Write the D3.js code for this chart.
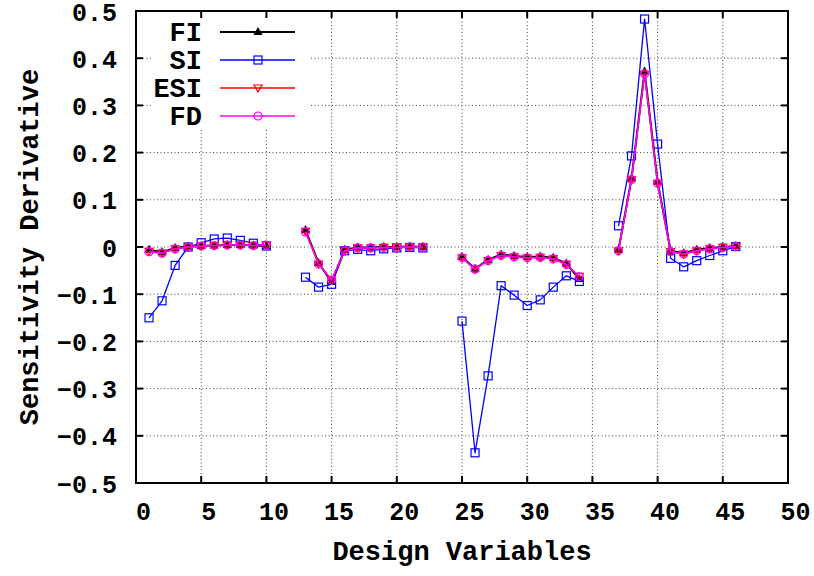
<!DOCTYPE html>
<html>
<head>
<meta charset="utf-8">
<script src="https://cdn.jsdelivr.net/npm/d3@7"></script>
<style>
  body { margin: 0; background: #fff; }
  text { font-family: "Liberation Mono", "DejaVu Sans Mono", monospace; font-weight: bold; }
</style>
</head>
<body>
<svg width="814" height="576"></svg>
<script>
// design variable index, gaps between the four groups are null
var designVars = [1,2,3,4,5,6,7,8,9,10,11,12,13,14,15,16,17,18,19,20,21,22,23,24,
  25,26,27,28,29,30,31,32,33,34,35,36,37,38,39,40,41,42,43,44,45,46];

var fiVals = [-0.006,-0.011,-0.002,0.001,0.002,0.003,0.004,0.004,0.003,0.002, null,null,
  0.036,-0.034,-0.074,-0.006,-0.001,-0.001,0.000,0.000,0.001,0.000, null,null,
  -0.021,-0.046,-0.027,-0.016,-0.019,-0.021,-0.020,-0.023,-0.035,-0.068, null,null,
  -0.006,0.145,0.372,0.138,-0.008,-0.013,-0.006,-0.002,0.000,0.002];

var siVals = [-0.150,-0.114,-0.039,0.000,0.009,0.017,0.019,0.014,0.008,0.002, null,null,
  -0.064,-0.085,-0.079,-0.008,-0.005,-0.008,-0.004,-0.002,-0.001,-0.002, null,null,
  -0.157,-0.436,-0.273,-0.082,-0.102,-0.124,-0.112,-0.085,-0.061,-0.073, null,null,
  0.045,0.193,0.483,0.218,-0.024,-0.042,-0.029,-0.018,-0.008,0.001];

var esiVals = [-0.009,-0.013,-0.004,0.000,0.002,0.003,0.004,0.004,0.003,0.004, null,null,
  0.033,-0.036,-0.070,-0.008,-0.002,-0.002,-0.001,-0.001,0.000,0.000, null,null,
  -0.023,-0.047,-0.029,-0.018,-0.021,-0.023,-0.022,-0.025,-0.037,-0.062, null,null,
  -0.008,0.143,0.366,0.135,-0.010,-0.015,-0.008,-0.004,-0.001,0.001];

var fdVals = [-0.010,-0.013,-0.004,0.000,0.002,0.003,0.004,0.004,0.003,0.004, null,null,
  0.032,-0.036,-0.070,-0.008,-0.002,-0.002,-0.001,-0.001,0.000,0.000, null,null,
  -0.023,-0.047,-0.029,-0.018,-0.021,-0.023,-0.022,-0.025,-0.037,-0.063, null,null,
  -0.008,0.143,0.367,0.135,-0.010,-0.015,-0.008,-0.004,-0.001,0.001];

var xTicks = [0,5,10,15,20,25,30,35,40,45,50];
var yTicks = [-0.5,-0.4,-0.3,-0.2,-0.1,0,0.1,0.2,0.3,0.4,0.5];

var series = [
  {name: "FI", vals: fiVals, color: "#000000", width: 2, marker: "tri"},
  {name: "SI", vals: siVals, color: "#0000ff", width: 1.3, marker: "square"},
  {name: "ESI", vals: esiVals, color: "#ff0000", width: 1.3, marker: "invtri"},
  {name: "FD", vals: fdVals, color: "#ff00ff", width: 1.5, marker: "circle"}
];

var svg = d3.select("svg"),
  margin = {top: 11, right: 26, bottom: 93, left: 136},
  width = +svg.attr("width") - margin.left - margin.right,
  height = +svg.attr("height") - margin.top - margin.bottom,
  g = svg.append("g").attr("transform", "translate(" + margin.left + "," + margin.top + ")");

var x = d3.scaleLinear().domain([0, 50]).range([0, width]);
var y = d3.scaleLinear().domain([-0.5, 0.5]).range([height, 0]);

function fmt(v) { return v === 0 ? "0" : d3.format(".1f")(v).replace("-", "\u2212"); }

// dotted grid
g.append("g").selectAll("line").data(xTicks.slice(1, -1)).join("line")
  .attr("x1", d => x(d)).attr("x2", d => x(d)).attr("y1", 0).attr("y2", height)
  .attr("stroke", "#444").attr("stroke-width", 1).attr("stroke-dasharray", "1,2.5");
g.append("g").selectAll("line").data(yTicks.slice(1, -1)).join("line")
  .attr("y1", d => y(d)).attr("y2", d => y(d)).attr("x1", 0).attr("x2", width)
  .attr("stroke", "#444").attr("stroke-width", 1).attr("stroke-dasharray", "1,2.5");

// legend background hides the grid behind it
g.append("rect").attr("x", 17).attr("y", 0).attr("width", 157).attr("height", 119).attr("fill", "#fff");

// axes: labels only, the inward ticks are drawn below
var xAxis = g.append("g").attr("transform", "translate(0," + height + ")")
  .call(d3.axisBottom(x).tickValues(xTicks).tickSize(0).tickPadding(19));
var yAxis = g.append("g")
  .call(d3.axisLeft(y).tickValues(yTicks).tickFormat(fmt).tickSize(0).tickPadding(19));
[xAxis, yAxis].forEach(a => {
  a.select(".domain").remove();
  a.selectAll("text").attr("font-size", 25).attr("fill", "#000")
    .style("font-family", "'Liberation Mono', monospace").style("font-weight", "bold");
});
xAxis.selectAll("text").attr("dx", 7);
yAxis.selectAll("text").attr("dy", "0.36em");

// inward ticks on all four sides
var tk = 7;
var ticks = g.append("g").attr("stroke", "#000").attr("stroke-width", 2);
xTicks.slice(1, -1).forEach(d => {
  ticks.append("line").attr("x1", x(d)).attr("x2", x(d)).attr("y1", height).attr("y2", height - tk);
  ticks.append("line").attr("x1", x(d)).attr("x2", x(d)).attr("y1", 0).attr("y2", tk);
});
yTicks.slice(1, -1).forEach(d => {
  ticks.append("line").attr("y1", y(d)).attr("y2", y(d)).attr("x1", 0).attr("x2", tk);
  ticks.append("line").attr("y1", y(d)).attr("y2", y(d)).attr("x1", width).attr("x2", width - tk);
});

function drawMarker(sel, type, color) {
  if (type === "tri") {
    sel.append("path").attr("d", "M0,-5L4.6,3L-4.6,3Z").attr("fill", color);
  } else if (type === "square") {
    sel.append("rect").attr("x", -4).attr("y", -4).attr("width", 8).attr("height", 8)
      .attr("fill", "none").attr("stroke", color).attr("stroke-width", 1.2);
  } else if (type === "invtri") {
    sel.append("path").attr("d", "M0,4L4,-3L-4,-3Z")
      .attr("fill", "none").attr("stroke", color).attr("stroke-width", 1.2);
  } else {
    sel.append("circle").attr("r", 4)
      .attr("fill", "none").attr("stroke", color).attr("stroke-width", 1.2);
  }
}

var line = d3.line()
  .defined(d => d.v !== null)
  .x(d => x(d.x))
  .y(d => y(d.v));

series.forEach(s => {
  var pts = designVars.map((dv, i) => ({x: dv, v: s.vals[i]}));
  g.append("path").datum(pts)
    .attr("fill", "none").attr("stroke", s.color).attr("stroke-width", s.width)
    .attr("stroke-linejoin", "round").attr("d", line);
  pts.filter(p => p.v !== null).forEach(p => {
    var m = g.append("g").attr("transform", "translate(" + x(p.x) + "," + y(p.v) + ")");
    drawMarker(m, s.marker, s.color);
  });
});

// legend
var leg = g.append("g");
series.forEach((s, i) => {
  var ly = 21 + i * 28;
  leg.append("text").attr("x", 66).attr("y", ly).attr("dy", "0.35em")
    .attr("text-anchor", "end").attr("font-size", 27).text(s.name);
  leg.append("line").attr("x1", 84).attr("x2", 159).attr("y1", ly).attr("y2", ly)
    .attr("stroke", s.color).attr("stroke-width", s.width);
  var m = leg.append("g").attr("transform", "translate(122," + ly + ")");
  drawMarker(m, s.marker, s.color);
});

// frame
g.append("rect").attr("width", width).attr("height", height)
  .attr("fill", "none").attr("stroke", "#000").attr("stroke-width", 2);

// axis titles
svg.append("text").attr("x", margin.left + width / 2).attr("y", 560)
  .attr("text-anchor", "middle").attr("font-size", 27).text("Design Variables");
svg.append("text").attr("transform", "translate(38," + (margin.top + height / 2) + ") rotate(-90)")
  .attr("text-anchor", "middle").attr("font-size", 27).text("Sensitivity Derivative");
</script>
</body>
</html>
